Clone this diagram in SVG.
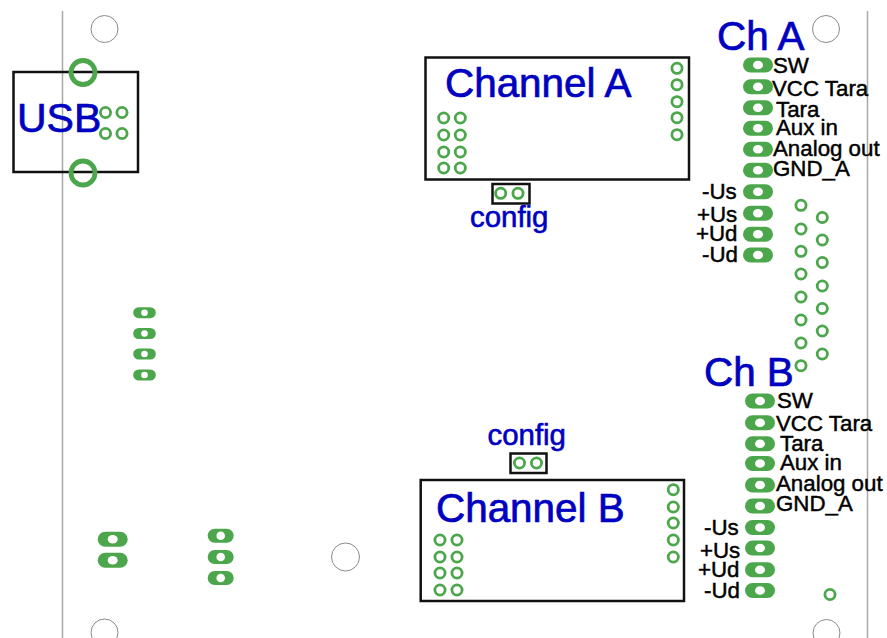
<svg xmlns="http://www.w3.org/2000/svg" width="887" height="638" viewBox="0 0 887 638">
<style>
text{font-family:"Liberation Sans",Arial,sans-serif}
.t{font-size:40.4px;fill:#0000c0;stroke:#0000c0;stroke-width:.7px}
.c{font-size:29.4px;fill:#0000c0;stroke:#0000c0;stroke-width:.6px}
.l{font-size:22.300px;fill:#000;stroke:#000;stroke-width:.45px}
.b{fill:none;stroke:#111;stroke-width:2.500}
.h{fill:none;stroke:#8a8a8a;stroke-width:1}
.e{stroke:#a8a8a8;stroke-width:1.500;fill:none}
.r{fill:none;stroke:#4ca64c;stroke-width:2.800}
.R{fill:none;stroke:#4ca64c;stroke-width:4.800}
.p{fill:#4ca64c}
.o{fill:#fff}
</style>
<defs>
<circle id="r" r="5.100" class="r"/>
<g id="P"><rect x="-15" y="-7.500" width="30" height="15" rx="7.500" class="p"/><ellipse rx="5" ry="4.300" class="o"/></g>
<g id="M"><rect x="-13" y="-7" width="26" height="14" rx="7" class="p"/><circle r="4.300" class="o"/></g>
<g id="S"><rect x="-11.300" y="-5.500" width="22.600" height="11" rx="5.500" class="p"/><circle r="3.300" class="o"/></g>
</defs>
<g id="board-edges">
<line x1="62.500" y1="11" x2="62.500" y2="638" class="e"/>
<line x1="867.500" y1="11" x2="867.500" y2="638" class="e"/>
</g>
<g id="mounting-holes">
<circle cx="104.500" cy="29" r="13.500" class="h"/>
<circle cx="826" cy="29" r="13.500" class="h"/>
<circle cx="104.500" cy="632.500" r="13.500" class="h"/>
<circle cx="826.500" cy="633" r="13.500" class="h"/>
<circle cx="345.500" cy="557" r="14" class="h"/>
</g>
<g id="usb">
<rect x="13.500" y="72" width="124.500" height="100" class="b"/>
<circle cx="83" cy="72.500" r="12" class="R"/>
<circle cx="83" cy="173" r="12" class="R"/>
<text x="17" y="132" class="t" style="font-size:41px">USB</text>
<use href="#r" x="105.500" y="112.500"/><use href="#r" x="122" y="112.500"/>
<use href="#r" x="105.500" y="133.500"/><use href="#r" x="122" y="133.500"/>
</g>
<g id="channel-a">
<rect x="425.500" y="57.500" width="263.500" height="122" class="b"/>
<text x="445" y="96.700" class="t">Channel A</text>
<use href="#r" x="677" y="68.300"/><use href="#r" x="677" y="84.700"/><use href="#r" x="677" y="101.700"/><use href="#r" x="677" y="117.700"/><use href="#r" x="677" y="134.700"/>
<use href="#r" x="443.700" y="118"/><use href="#r" x="460.300" y="118"/>
<use href="#r" x="443.700" y="135"/><use href="#r" x="460.300" y="135"/>
<use href="#r" x="443.700" y="152"/><use href="#r" x="460.300" y="152"/>
<use href="#r" x="443.700" y="168"/><use href="#r" x="460.300" y="168"/>
</g>
<g id="config-a">
<rect x="492.500" y="184" width="37" height="19.500" class="b"/>
<use href="#r" x="500.700" y="193.300"/><use href="#r" x="518" y="193.300"/>
<text x="470" y="226.700" class="c">config</text>
</g>
<g id="channel-b">
<rect x="420.700" y="480" width="263.300" height="121" class="b"/>
<text x="436" y="521.700" class="t">Channel B</text>
<use href="#r" x="673.300" y="489.700"/><use href="#r" x="673.300" y="507"/><use href="#r" x="673.300" y="523"/><use href="#r" x="673.300" y="540"/><use href="#r" x="673.300" y="557"/>
<use href="#r" x="440" y="540"/><use href="#r" x="457" y="540"/>
<use href="#r" x="440" y="557"/><use href="#r" x="457" y="557"/>
<use href="#r" x="440" y="573"/><use href="#r" x="457" y="573"/>
<use href="#r" x="440" y="590"/><use href="#r" x="457" y="590"/>
</g>
<g id="config-b">
<rect x="510.500" y="453.500" width="36" height="19.500" class="b"/>
<use href="#r" x="519.500" y="463"/><use href="#r" x="536.500" y="463"/>
<text x="487.500" y="445" class="c">config</text>
</g>
<g id="ch-a-terminals">
<text x="717" y="50" class="t">Ch A</text>
<use href="#P" x="758" y="65"/><use href="#P" x="758" y="86.700"/><use href="#P" x="758" y="107.700"/><use href="#P" x="758" y="128.300"/><use href="#P" x="758" y="149.300"/><use href="#P" x="758" y="170.300"/><use href="#P" x="758" y="191.800"/><use href="#P" x="758" y="213.300"/><use href="#P" x="758" y="234.300"/><use href="#P" x="758" y="255"/>
<text x="773" y="73" class="l">SW</text>
<text x="772" y="96" class="l">VCC Tara</text>
<text x="776" y="116.500" class="l">Tara</text>
<text x="776" y="135" class="l">Aux in</text>
<text x="773" y="156" class="l">Analog out</text>
<text x="773" y="176" class="l">GND_A</text>
<text x="702" y="199" class="l">-Us</text>
<text x="697" y="222" class="l">+Us</text>
<text x="696" y="241" class="l">+Ud</text>
<text x="702" y="262" class="l">-Ud</text>
</g>
<g id="ch-b-terminals">
<text x="704" y="385.700" class="t">Ch B</text>
<use href="#P" x="760" y="401"/><use href="#P" x="760" y="422.700"/><use href="#P" x="760" y="443.700"/><use href="#P" x="760" y="463.500"/><use href="#P" x="760" y="485"/><use href="#P" x="760" y="506"/><use href="#P" x="760" y="527.500"/><use href="#P" x="760" y="548"/><use href="#P" x="760" y="569.700"/><use href="#P" x="760" y="590.500"/>
<text x="777" y="408" class="l">SW</text>
<text x="776" y="431" class="l">VCC Tara</text>
<text x="780" y="451" class="l">Tara</text>
<text x="780" y="470" class="l">Aux in</text>
<text x="776" y="491" class="l">Analog out</text>
<text x="776" y="511" class="l">GND_A</text>
<text x="704" y="535" class="l">-Us</text>
<text x="700" y="558" class="l">+Us</text>
<text x="698" y="577" class="l">+Ud</text>
<text x="704" y="598" class="l">-Ud</text>
</g>
<g id="ring-column">
<use href="#r" x="801" y="205.300"/><use href="#r" x="801" y="229"/><use href="#r" x="801" y="251.300"/><use href="#r" x="801" y="274"/><use href="#r" x="801" y="297"/><use href="#r" x="801" y="320"/><use href="#r" x="801" y="343"/><use href="#r" x="801" y="365.700"/>
<use href="#r" x="822.300" y="217.500"/><use href="#r" x="822.300" y="240"/><use href="#r" x="822.300" y="262.500"/><use href="#r" x="822.300" y="286"/><use href="#r" x="822.300" y="308.500"/><use href="#r" x="822.300" y="331"/><use href="#r" x="822.300" y="354"/>
<use href="#r" x="830" y="594.500"/>
</g>
<g id="left-pads-4">
<use href="#S" x="144.500" y="312.700"/><use href="#S" x="144.500" y="333.500"/><use href="#S" x="144.500" y="354"/><use href="#S" x="144.500" y="375"/>
</g>
<g id="left-pads-2">
<use href="#P" x="112.700" y="539.300"/><use href="#P" x="112.700" y="560.300"/>
</g>
<g id="left-pads-3">
<use href="#M" x="220.700" y="535.700"/><use href="#M" x="220.700" y="557"/><use href="#M" x="220.700" y="578"/>
</g>
<g id="connectors"></g>
</svg>
